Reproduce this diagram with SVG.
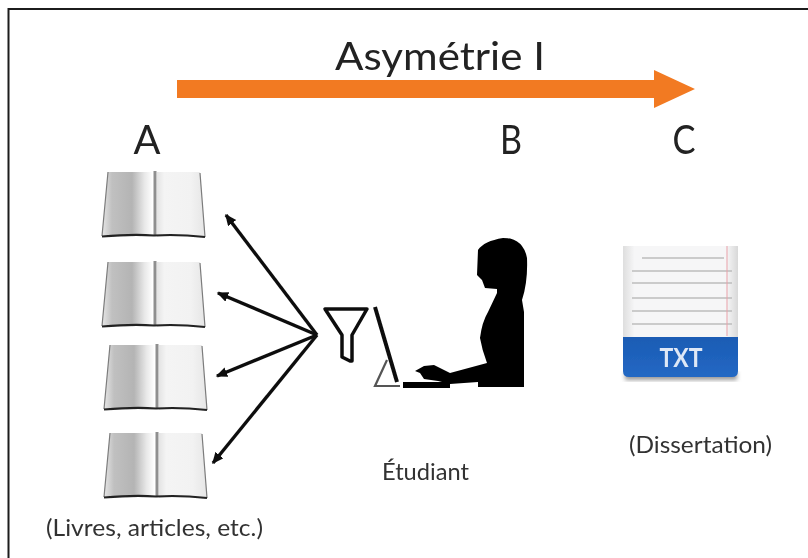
<svg xmlns="http://www.w3.org/2000/svg" width="808" height="558" viewBox="0 0 808 558">
<style>
text{font-family:"Lato","Open Sans","Liberation Sans",sans-serif;fill:#222;filter:url(#soft)}
.big{font-size:41px}
.sm{font-size:24px;fill:#333}
.ln{stroke:#111;stroke-width:3.4;fill:none}
.rule{stroke:#bdbdbd;stroke-width:1.3}
</style>
<defs>
<filter id="soft" x="-5%" y="-5%" width="110%" height="110%"><feGaussianBlur stdDeviation="0.45"/></filter>
<filter id="soft2" x="-10%" y="-10%" width="120%" height="120%"><feGaussianBlur stdDeviation="0.6"/></filter>
<filter id="sh" x="-10%" y="-10%" width="120%" height="130%"><feGaussianBlur stdDeviation="2"/></filter>
<linearGradient id="pl" x1="0" x2="1" y1="0" y2="0"><stop offset="0" stop-color="#e6e6e6"/><stop offset=".2" stop-color="#c0c0c0"/><stop offset=".6" stop-color="#b4b4b4"/><stop offset=".85" stop-color="#e8e8e8"/><stop offset="1" stop-color="#fdfdfd"/></linearGradient>
<linearGradient id="pr" x1="0" x2="1" y1="0" y2="0"><stop offset="0" stop-color="#e4e4e4"/><stop offset=".15" stop-color="#f4f4f4"/><stop offset=".7" stop-color="#f2f2f2"/><stop offset="1" stop-color="#e6e6e6"/></linearGradient>
<linearGradient id="paper" x1="0" x2="1" y1="0" y2="0"><stop offset="0" stop-color="#dedede"/><stop offset=".1" stop-color="#f6f6f7"/><stop offset=".9" stop-color="#f6f6f7"/><stop offset="1" stop-color="#d8d8d8"/></linearGradient>
<linearGradient id="blue" x1="0" x2="0" y1="0" y2="1"><stop offset="0" stop-color="#1a5cb4"/><stop offset="1" stop-color="#2468c4"/></linearGradient>
<marker id="ah" markerWidth="5" markerHeight="4" refX="3" refY="1.5" orient="auto" markerUnits="strokeWidth"><path d="M0 0L3.4 1.5L0 3z" fill="#111"/></marker>
<g id="book" filter="url(#soft2)"><path d="M6 0H50V64H0Z" fill="url(#pl)"/><path d="M55 0H98L103 65H55Z" fill="url(#pr)"/><path d="M53 -1V63" stroke="#8f8f8f" stroke-width="3"/><path d="M6 0L0 64M98 1L103 65" stroke="#7c7c7c" stroke-width="1.2" fill="none"/><path d="M0 64.5Q30 62 52 63.5Q76 62 103 65" stroke="#222" stroke-width="2.2" fill="none"/></g>
</defs>
<rect width="808" height="558" fill="#fff"/>
<path d="M8.5 558V9H808" fill="none" stroke="#1c1c1c" stroke-width="2"/>
<g id="arrow"><path d="M177 80H654V70L695 89L654 108V98H177Z" fill="#f27a21" filter="url(#soft)"/></g>
<g id="title"><text class="big" x="440" y="70" text-anchor="middle" style="font-size:39px" textLength="210" lengthAdjust="spacingAndGlyphs">Asymétrie I</text></g>
<g id="label-a"><text class="big" x="147" y="154" text-anchor="middle" textLength="27" lengthAdjust="spacingAndGlyphs">A</text></g>
<g id="label-b"><text class="big" x="511" y="154" text-anchor="middle" textLength="22" lengthAdjust="spacingAndGlyphs">B</text></g>
<g id="label-c"><text class="big" x="684" y="154" text-anchor="middle" textLength="23" lengthAdjust="spacingAndGlyphs">C</text></g>
<g id="book1"><use href="#book" x="102" y="172"/></g>
<g id="book2"><use href="#book" x="102" y="262"/></g>
<g id="book3"><use href="#book" x="104" y="345"/></g>
<g id="book4"><use href="#book" x="104" y="433"/></g>
<g id="connectors" class="ln" filter="url(#soft)">
<path d="M317 335L226 215" marker-end="url(#ah)"/>
<path d="M317 335L218 293" marker-end="url(#ah)"/>
<path d="M317 335L217 376" marker-end="url(#ah)"/>
<path d="M317 335L213 463" marker-end="url(#ah)"/>
</g>
<g id="student" filter="url(#soft)">
<path d="M325 309H367L352 335V361L350 361L342 357V335Z" fill="none" stroke="#111" stroke-width="3.5" stroke-linejoin="round"/>
<path d="M375 307L397 382" stroke="#111" stroke-width="4" fill="none"/>
<path d="M387 360L375 386H400" stroke="#555" stroke-width="2.2" fill="none"/>
<path d="M403 382H450V388H403Z" fill="#000"/>
<path d="M478 250Q484 241 503 238Q523 238 527 258Q528 282 522 300L524 312V387H478V382L450 384L438 381L424 379L420 373L415 371L424 366L434 365L450 373L487 363Q482 350 480 338Q482 322 488 312L497 293V289L485 288L482 280L477 275Z" fill="#000"/>
</g>
<g id="etudiant-label"><text class="sm" x="425.500" y="480" text-anchor="middle" textLength="87" lengthAdjust="spacingAndGlyphs">Étudiant</text></g>
<g id="document">
<rect x="625" y="372" width="112" height="8" fill="#999" filter="url(#sh)"/>
<g filter="url(#soft)">
<rect x="623" y="246" width="115" height="92" fill="url(#paper)"/>
<g class="rule"><path d="M642 258H724M632 271H732M632 283H732M632 298H732M632 311H732M632 324H732"/></g>
<path d="M727 246V336" stroke="#e8a0a8" stroke-width="1"/>
<path d="M623 337H738V371Q738 377 732 377H629Q623 377 623 371Z" fill="url(#blue)"/>
<text x="681" y="367" text-anchor="middle" font-size="26" font-weight="700" style="fill:#dfe8f6;filter:none" textLength="43" lengthAdjust="spacingAndGlyphs">TXT</text>
</g>
</g>
<g id="dissertation-label"><text class="sm" x="700.500" y="453" text-anchor="middle" textLength="143" lengthAdjust="spacingAndGlyphs">(Dissertation)</text></g>
<g id="livres-label"><text class="sm" x="154.500" y="536" text-anchor="middle" textLength="217" lengthAdjust="spacingAndGlyphs">(Livres, articles, etc.)</text></g>
</svg>
